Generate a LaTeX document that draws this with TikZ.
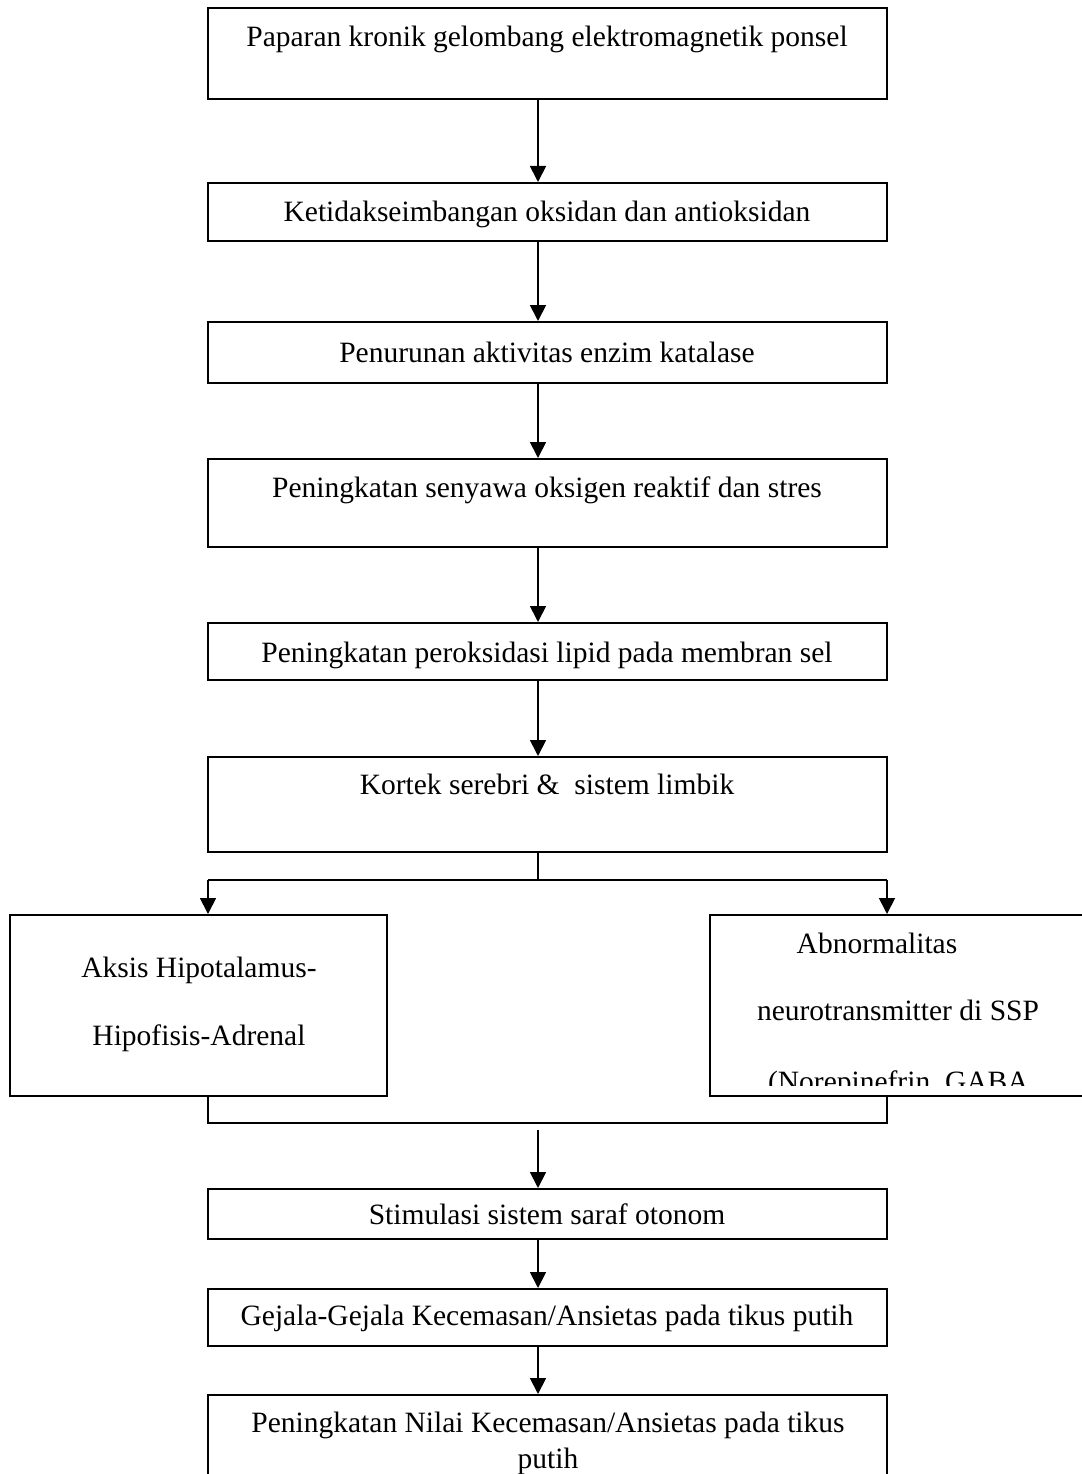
\documentclass[tikz,border=0pt]{standalone}
\usepackage{fontspec}
\setmainfont{Liberation Serif}
\usetikzlibrary{arrows.meta}
\begin{document}
\begin{tikzpicture}[x=1pt,y=-1pt,
  box/.style={draw, line width=2pt, rectangle, inner sep=0pt},
  txt/.style={font=\fontsize{29.5}{35}\selectfont, inner sep=0pt, anchor=base},
  arr/.style={line width=1.8pt, -{Triangle[width=16pt,length=16pt]}},
  conn/.style={line width=1.8pt}]
\useasboundingbox (0,0) rectangle (1081,1474);
\coordinate (ax) at (538,0);
% boxes
\node[box, minimum width=679pt, minimum height=91pt] (b1) at (547.5,53.5) {};
\node[box, minimum width=679pt, minimum height=58pt] (b2) at (547.5,212) {};
\node[box, minimum width=679pt, minimum height=61pt] (b3) at (547.5,352.5) {};
\node[box, minimum width=679pt, minimum height=88pt] (b4) at (547.5,503) {};
\node[box, minimum width=679pt, minimum height=57pt] (b5) at (547.5,651.5) {};
\node[box, minimum width=679pt, minimum height=95pt] (b6) at (547.5,804.5) {};
\node[box, minimum width=377pt, minimum height=181pt] (bl) at (198.5,1005.5) {};
\node[box, minimum width=385pt, minimum height=181pt] (br) at (902.5,1005.5) {};
\node[box, minimum width=679pt, minimum height=50pt] (b7) at (547.5,1214) {};
\node[box, minimum width=679pt, minimum height=57pt] (b8) at (547.5,1317.5) {};
\node[box, minimum width=679pt, minimum height=95pt] (b9) at (547.5,1442.5) {};
% texts
\node[txt] (t1) at (547,47) {Paparan kronik gelombang elektromagnetik ponsel};
\node[txt] (t2) at (547,222) {Ketidakseimbangan oksidan dan antioksidan};
\node[txt] (t3) at (547,362) {Penurunan aktivitas enzim katalase};
\node[txt] (t4) at (547,497) {Peningkatan senyawa oksigen reaktif dan stres};
\node[txt] (t5) at (547,662) {Peningkatan peroksidasi lipid pada membran sel};
\node[txt] (t6) at (547,794) {Kortek serebri \&~ sistem limbik};
\node[txt] (tl1) at (199,977) {Aksis Hipotalamus-};
\node[txt] (tl2) at (199,1045) {Hipofisis-Adrenal};
\node[txt] (tr1) at (877,953) {Abnormalitas};
\node[txt] (tr2) at (898,1020) {neurotransmitter di SSP};
\begin{scope}
\clip (712,1040) rectangle (1081,1085);
\node[txt] (tr3) at (902,1091) {(Norepinefrin, GABA,};
\end{scope}
\node[txt] (t7) at (547,1224) {Stimulasi sistem saraf otonom};
\node[txt] (t8) at (547,1325) {Gejala-Gejala Kecemasan/Ansietas pada tikus putih};
\node[txt] (t9a) at (548,1432) {Peningkatan Nilai Kecemasan/Ansietas pada tikus};
\node[txt] (t9b) at (548,1468) {putih};
% connectors
\draw[arr] (b1.south -| ax) -- (b2.north -| ax);
\draw[arr] (b2.south -| ax) -- (b3.north -| ax);
\draw[arr] (b3.south -| ax) -- (b4.north -| ax);
\draw[arr] (b4.south -| ax) -- (b5.north -| ax);
\draw[arr] (b5.south -| ax) -- (b6.north -| ax);
\coordinate (split) at (538,880);
\coordinate (sl) at (208,880);
\coordinate (sr) at (887,880);
\draw[conn] (b6.south -| ax) -- (split);
\draw[conn] (sl) -- (sr);
\draw[arr] (sl) -- (sl |- bl.north);
\draw[arr] (sr) -- (sr |- br.north);
\coordinate (jl) at (208,1123);
\coordinate (jr) at (887,1123);
\draw[conn] (jl |- bl.south) -- (jl) -- (jr) -- (jr |- br.south);
\coordinate (jstart) at (538,1130);
\draw[arr] (jstart) -- (b7.north -| ax);
\draw[arr] (b7.south -| ax) -- (b8.north -| ax);
\draw[arr] (b8.south -| ax) -- (b9.north -| ax);
\end{tikzpicture}
\end{document}
